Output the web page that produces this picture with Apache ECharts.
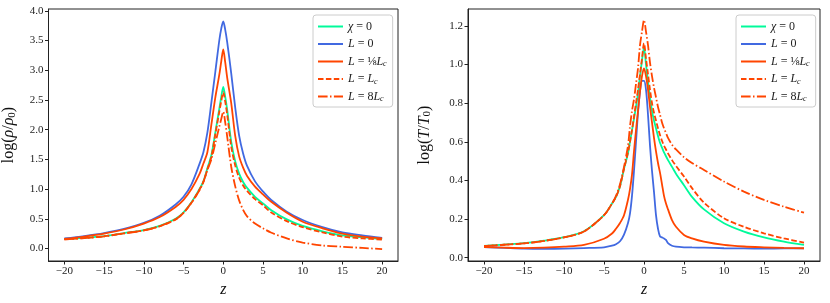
<!DOCTYPE html>
<html><head><meta charset="utf-8">
<script src="https://cdn.jsdelivr.net/npm/echarts@6/dist/echarts.min.js"></script>
<style>html,body{margin:0;padding:0;background:#fff}#c{width:830px;height:303px}</style>
</head><body><div id="c"></div>
<script>
// ---- data: left panel log(rho/rho0) ----
const zRho = [-20,-17.5,-15,-12.5,-10,-8,-6,-5,-4,-3,-2.5,-2,-1.5,-1,-0.5,-0.25,0,0.25,0.5,1,1.5,2,2.5,3,4,5,6,8,10,12.5,15,17.5,20];
const rhoChi0 = [0.16,0.18,0.21,0.26,0.31,0.38,0.50,0.61,0.78,1.00,1.13,1.35,1.57,1.95,2.35,2.55,2.72,2.55,2.33,1.80,1.47,1.26,1.12,1.02,0.87,0.76,0.65,0.49,0.38,0.29,0.22,0.19,0.16];
const rhoL0 = [0.17,0.21,0.26,0.33,0.43,0.55,0.74,0.87,1.08,1.42,1.62,1.95,2.45,2.97,3.50,3.70,3.82,3.68,3.47,2.95,2.38,1.90,1.60,1.39,1.13,0.96,0.82,0.62,0.48,0.36,0.27,0.22,0.18];
const rhoL8th = [0.16,0.20,0.25,0.32,0.42,0.53,0.70,0.82,1.00,1.25,1.43,1.62,2.08,2.54,2.92,3.15,3.35,3.13,2.87,2.45,1.90,1.55,1.36,1.22,1.04,0.91,0.79,0.60,0.45,0.34,0.25,0.20,0.17];
const rhoLc = [0.155,0.175,0.205,0.255,0.305,0.375,0.49,0.60,0.77,0.99,1.12,1.33,1.54,1.92,2.30,2.48,2.63,2.47,2.25,1.72,1.40,1.19,1.06,0.97,0.83,0.73,0.61,0.46,0.36,0.27,0.20,0.17,0.15];
const rho8Lc = [0.155,0.175,0.205,0.255,0.305,0.375,0.49,0.60,0.77,0.98,1.12,1.32,1.50,1.77,2.05,2.18,2.30,2.12,1.88,1.38,1.05,0.81,0.65,0.54,0.42,0.34,0.27,0.17,0.10,0.05,0.03,0.01,-0.01];

// ---- data: right panel log(T/T0) ----
const zT = [-20,-17.5,-15,-12.5,-10,-7.5,-5,-4,-3.5,-3,-2.5,-2,-1.75,-1.5,-1.25,-1,-0.75,-0.5,-0.25,0,0.25,0.5,0.75,1,1.25,1.5,1.75,2,2.25,2.5,2.75,3,3.5,4,5,6,7.5,10,12.5,15,17.5,20];
const tChi0 = [0.061,0.068,0.075,0.088,0.106,0.137,0.22,0.28,0.315,0.37,0.46,0.54,0.60,0.66,0.72,0.78,0.85,0.94,1.02,1.09,1.00,0.91,0.83,0.76,0.71,0.67,0.63,0.595,0.57,0.545,0.525,0.505,0.47,0.435,0.375,0.315,0.25,0.178,0.135,0.105,0.083,0.066];
const tL0 = [0.055,0.051,0.047,0.046,0.047,0.050,0.054,0.062,0.070,0.085,0.12,0.18,0.23,0.32,0.45,0.60,0.75,0.86,0.915,0.915,0.87,0.74,0.58,0.45,0.34,0.22,0.15,0.11,0.105,0.100,0.092,0.075,0.062,0.057,0.054,0.053,0.052,0.049,0.048,0.047,0.048,0.048];
const tL8th = [0.055,0.052,0.050,0.052,0.057,0.066,0.098,0.125,0.15,0.18,0.22,0.30,0.355,0.43,0.55,0.66,0.76,0.86,0.94,0.98,0.94,0.87,0.78,0.70,0.62,0.55,0.49,0.44,0.38,0.32,0.28,0.25,0.195,0.16,0.118,0.10,0.083,0.066,0.058,0.054,0.051,0.049];
const tLc = [0.060,0.067,0.074,0.087,0.105,0.136,0.22,0.28,0.315,0.37,0.46,0.545,0.60,0.66,0.73,0.80,0.87,0.95,1.03,1.11,1.03,0.95,0.87,0.80,0.75,0.71,0.67,0.635,0.605,0.58,0.56,0.54,0.505,0.475,0.42,0.36,0.285,0.204,0.16,0.126,0.10,0.078];
const t8Lc = [0.060,0.067,0.074,0.087,0.105,0.136,0.22,0.28,0.32,0.38,0.47,0.58,0.68,0.76,0.82,0.90,0.98,1.10,1.17,1.23,1.17,1.10,1.01,0.94,0.88,0.83,0.78,0.74,0.70,0.67,0.645,0.62,0.585,0.56,0.52,0.49,0.454,0.394,0.342,0.299,0.264,0.233];

// ---- ticks ----
const xTicks = [-20,-15,-10,-5,0,5,10,15,20];
const yTicksRho = [0,0.5,1,1.5,2,2.5,3,3.5,4];
const yTicksT = [0,0.2,0.4,0.6,0.8,1.0,1.2];
const names = ['χ = 0','L = 0','L = ⅛Lc','L = Lc','L = 8Lc'];
const richNames = {
  'χ = 0': '{i|χ} = 0',
  'L = 0': '{i|L} = 0',
  'L = ⅛Lc': '{i|L} = {f|⅛}{i|L}{s|c}',
  'L = Lc': '{i|L} = {i|L}{s|c}',
  'L = 8Lc': '{i|L} = 8{i|L}{s|c}'
};

const FONT = 'Liberation Serif';
const GREEN = '#00FA9A', BLUE = '#4169E1', RED = '#FF4500';
const styles = [
  {color: GREEN, type: 'solid'},
  {color: BLUE, type: 'solid'},
  {color: RED, type: 'solid'},
  {color: RED, type: [5.5, 2.4]},
  {color: RED, type: [9.6, 2.4, 1.5, 2.4]}
];

const rhoSets = [rhoChi0, rhoL0, rhoL8th, rhoLc, rho8Lc];
const tSets = [tChi0, tL0, tL8th, tLc, t8Lc];

const fmt = v => (v < 0 ? '\u2212' + Math.abs(v) : String(v));
function xAxis(gi) {
  return {
    type: 'value', gridIndex: gi, min: -22, max: 22,
    name: 'z', nameLocation: 'middle', nameGap: 20,
    nameTextStyle: {fontFamily: FONT, fontSize: 16, fontStyle: 'italic', color: '#111'},
    axisLine: {onZero: false, lineStyle: {color: '#222', width: 1}},
    axisTick: {show: true, inside: false, length: 3.5, lineStyle: {color: '#222'}, customValues: xTicks},
    axisLabel: {customValues: xTicks, formatter: fmt, fontFamily: FONT, fontSize: 11, color: '#222', margin: 5},
    splitLine: {show: false}
  };
}
function yAxis(gi, min, max, ticks, dec, nameRich, gap) {
  return {
    type: 'value', gridIndex: gi, min: min, max: max,
    name: nameRich, nameLocation: 'middle', nameGap: gap, nameRotate: 90,
    nameTextStyle: {fontFamily: FONT, fontSize: 16, color: '#111',
      rich: {i: {fontFamily: FONT, fontSize: 16, fontStyle: 'italic', color: '#111'},
             n: {fontFamily: FONT, fontSize: 16, color: '#111'},
             s: {fontFamily: FONT, fontSize: 11, color: '#111', padding: [6, 0, 0, 0]}}},
    axisLine: {show: true, onZero: false, lineStyle: {color: '#222', width: 1}},
    axisTick: {show: true, inside: false, length: 3.5, lineStyle: {color: '#222'}, customValues: ticks},
    axisLabel: {customValues: ticks, formatter: v => v.toFixed(dec), fontFamily: FONT, fontSize: 11, color: '#222', margin: 5},
    splitLine: {show: false}
  };
}
function legend(left) {
  return {
    data: names, orient: 'vertical', left: left, top: 15,
    backgroundColor: '#fff', borderColor: '#ccc', borderWidth: 1, borderRadius: 3,
    padding: [5, 6, 4, 4], itemWidth: 25, itemHeight: 12, itemGap: 4.5,
    selectedMode: false,
    itemStyle: {opacity: 0},
    formatter: n => richNames[n],
    textStyle: {fontFamily: FONT, fontSize: 12, color: '#222', lineHeight: 13,
      rich: {i: {fontFamily: FONT, fontSize: 12, fontStyle: 'italic', color: '#222'},
             f: {fontFamily: FONT, fontSize: 12, color: '#222'},
             s: {fontFamily: FONT, fontSize: 8, fontStyle: 'italic', color: '#222', padding: [5, 0, 0, 0]}}}
  };
}
const series = [];
function mk(arr, k, zs, idx) {
  return {
    name: names[k], type: 'line', xAxisIndex: idx, yAxisIndex: idx, showSymbol: false, symbol: 'none',
    smooth: 0.3,
    data: zs.map((z, i) => [z, arr[i]]), lineStyle: {width: 1.8, color: styles[k].color, type: styles[k].type},
    itemStyle: {color: styles[k].color}, animation: false, z: 2 + k
  };
}
rhoSets.forEach((arr, k) => series.push(mk(arr, k, zRho, 0)));
tSets.forEach((arr, k) => series.push(mk(arr, k, zT, 1)));

const chart = echarts.init(document.getElementById('c'), null, {renderer: 'canvas'});
chart.setOption({
  animation: false,
  backgroundColor: '#fff',
  grid: [
    {left: 45, top: 9, width: 353, height: 252, show: true, borderColor: '#222', borderWidth: 1, backgroundColor: 'transparent'},
    {left: 468, top: 9, width: 352, height: 252, show: true, borderColor: '#222', borderWidth: 1, backgroundColor: 'transparent'}
  ],
  xAxis: [xAxis(0), xAxis(1)],
  yAxis: [
    yAxis(0, -0.21, 4.03, yTicksRho, 1, '{n|log(}{i|ρ}{n|/}{i|ρ}{s|0}{n|)}', 31),
    yAxis(1, -0.017, 1.287, yTicksT, 1, '{n|log(}{i|T}{n|/}{i|T}{s|0}{n|)}', 35)
  ],
  legend: [legend(313), legend(736)],
  series: series
});
</script>
</body></html>
